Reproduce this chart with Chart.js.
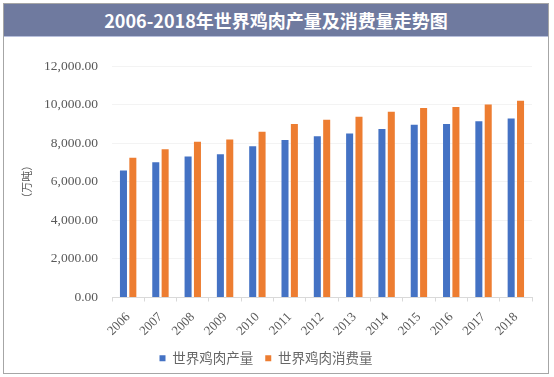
<!DOCTYPE html>
<html>
<head>
<meta charset="utf-8">
<script src="https://cdn.jsdelivr.net/npm/chart.js@4/dist/chart.umd.min.js"></script>
<style>
  html, body { margin: 0; padding: 0; background: #fff; }
  body { width: 554px; height: 377px; position: relative; overflow: hidden; }
  #wrap { position: absolute; left: 0; top: 0; width: 554px; height: 377px; }
  #frame { position: absolute; left: 3px; top: 3px; width: 544px; height: 369px; border: 1px solid #a6a6a6; pointer-events: none; }
  #title { position: absolute; left: 4px; top: 4px; width: 544px; height: 32px; background: #6f7a9f; border-bottom: 1px solid #b8c0dc;
           color: #fff; font: bold 18px "Noto Sans CJK SC", "Open Sans", sans-serif; text-align: center; line-height: 32px; }
</style>
</head>
<body>
<div id="wrap"><canvas id="c" width="554" height="377"></canvas></div>
<div id="title">2006-2018年世界鸡肉产量及消费量走势图</div>
<div id="frame"></div>
<script>
const categories = ["2006","2007","2008","2009","2010","2011","2012","2013","2014","2015","2016","2017","2018"];
const seriesNames = ["世界鸡肉产量", "世界鸡肉消费量"];
const production = [6580, 7010, 7310, 7430, 7840, 8160, 8360, 8500, 8730, 8950, 8990, 9140, 9280];
const consumption = [7240, 7690, 8070, 8190, 8590, 9000, 9210, 9370, 9630, 9820, 9870, 10010, 10200];
const yTicks = [0, 2000, 4000, 6000, 8000, 10000, 12000];
const yTitle = "（万吨）";

const serif = 'Liberation Serif, Times New Roman, serif';
const grey = '#595959';

new Chart(document.getElementById('c'), {
  type: 'bar',
  data: {
    labels: categories,
    datasets: [
      { label: seriesNames[0], data: production, backgroundColor: '#4472c4', categoryPercentage: 0.58, barPercentage: 0.75 },
      { label: seriesNames[1], data: consumption, backgroundColor: '#ed7d31', categoryPercentage: 0.58, barPercentage: 0.75 }
    ]
  },
  options: {
    responsive: false,
    animation: false,
    devicePixelRatio: 1,
    layout: { padding: { left: 0, right: 22, top: 66, bottom: 2 } },
    plugins: {
      tooltip: { enabled: false },
      legend: {
        position: 'bottom',
        labels: {
          boxWidth: 6, boxHeight: 6, padding: 12,
          color: '#666666',
          font: { family: 'Noto Sans CJK SC, sans-serif', size: 13.5 }
        }
      }
    },
    scales: {
      x: {
        offset: true,
        grid: { display: true, offset: true, drawOnChartArea: false, drawTicks: true, tickLength: 4, color: '#d9d9d9' },
        border: { display: true, color: '#d9d9d9' },
        ticks: { minRotation: 45, maxRotation: 45, padding: 8, color: grey, font: { family: serif, size: 13 } },
        afterFit: (s) => { s.height = 42; }
      },
      y: {
        min: 0, max: 12000,
        afterBuildTicks: (s) => { s.ticks = yTicks.map(v => ({ value: v })); },
        grid: { color: '#f3f3f3', drawTicks: false },
        border: { display: false },
        ticks: {
          padding: 14, color: grey, font: { family: serif, size: 13.5 },
          callback: (v) => Number(v).toLocaleString('en-US', { minimumFractionDigits: 2, maximumFractionDigits: 2 })
        },
        title: { display: true, text: yTitle, color: grey, padding: { top: 20, bottom: 0 }, font: { family: 'Noto Sans CJK SC, serif', size: 11 } },
        afterFit: (s) => { s.width = 112; }
      }
    }
  }
});
</script>
</body>
</html>
